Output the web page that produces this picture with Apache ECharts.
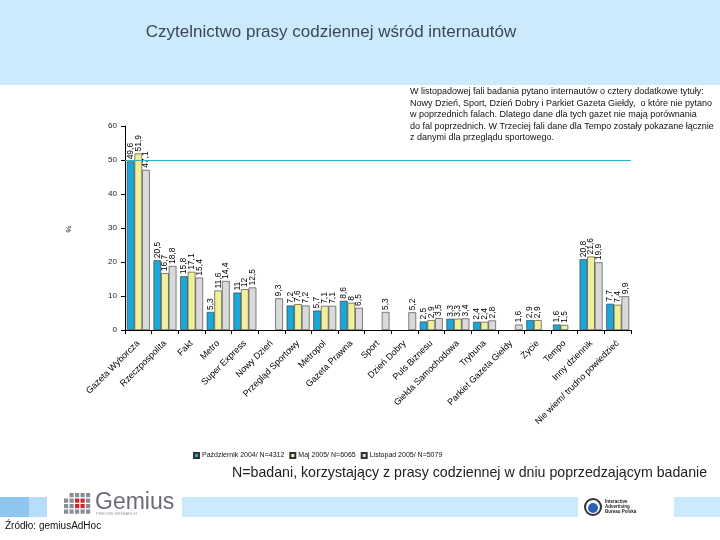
<!DOCTYPE html>
<html><head><meta charset="utf-8">
<script src="https://cdn.jsdelivr.net/npm/echarts@6/dist/echarts.min.js"></script>
<style>html,body{margin:0;padding:0;background:#fff}#c{width:720px;height:540px}</style>
</head><body><div id="c"></div>
<script>
const categories = ["Gazeta Wyborcza","Rzeczpospolita","Fakt","Metro","Super Express","Nowy Dzień","Przegląd Sportowy","Metropol","Gazeta Prawna","Sport","Dzień Dobry","Puls Biznesu","Giełda Samochodowa","Trybuna","Parkiet Gazeta Giełdy","Życie","Tempo","Inny dziennik","Nie wiem/ trudno powiedzieć"];
const seriesNames = ["Październik 2004/ N=4312","Maj 2005/ N=6065","Listopad 2005/ N=5079"];
const oct2004 = [49.6,20.5,15.8,5.3,11.0,null,7.2,5.7,8.6,null,null,2.5,3.3,2.4,null,2.9,1.6,20.8,7.7];
const may2005 = [51.9,16.7,17.1,11.6,12.0,null,7.6,7.1,8.0,null,null,2.9,3.3,2.4,null,2.9,1.5,21.6,7.4];
const nov2005 = [47.1,18.8,15.4,14.4,12.5,9.3,7.2,7.1,6.5,5.3,5.2,3.5,3.4,2.8,1.6,null,null,19.9,9.9];
const yTicks = [0,10,20,30,40,50,60];
const colors = ["#1ea6d9","#efef9c","#dadada"];
const noteLines = [
 "W listopadowej fali badania pytano internautów o cztery dodatkowe tytuły:",
 "Nowy Dzień, Sport, Dzień Dobry i Parkiet Gazeta Giełdy,  o które nie pytano",
 "w poprzednich falach. Dlatego dane dla tych gazet nie mają porównania",
 "do fal poprzednich. W Trzeciej fali dane dla Tempo zostały pokazane łącznie",
 "z danymi dla przeglądu sportowego."
];
const FONT = "Liberation Sans, Arial, sans-serif";
const chart = echarts.init(document.getElementById('c'));
const lab = {
  show: true, position: 'top', rotate: 90, align: 'left', verticalAlign: 'middle', distance: 2,
  fontSize: 8.5, fontFamily: FONT, color: '#000',
  formatter: p => (p.value == null ? '' : (Number.isInteger(p.value) ? String(p.value) : p.value.toFixed(1).replace('.', ',')))
};
function mk(i, data) {
  const s = {
    name: seriesNames[i], type: 'bar', data: data, barGap: 0, barCategoryGap: '14%',
    itemStyle: { color: colors[i], borderColor: '#333', borderWidth: 0.6 },
    label: lab, animation: false
  };
  if (i === 0) {
    s.markLine = { silent: true, symbol: 'none', label: { show: false },
      lineStyle: { color: '#33aec8', width: 1, type: 'solid' }, data: [{ yAxis: 50 }] };
  }
  return s;
}
const graphic = [
  { type: 'rect', shape: { x: 0, y: 0, width: 720, height: 85 }, style: { fill: '#cdeafc' }, z: -10 },
  { type: 'text', x: 331, y: 32, style: { text: 'Czytelnictwo prasy codziennej wśród internautów', font: '17px ' + FONT, fill: '#3a4754', textAlign: 'center', textVerticalAlign: 'middle' } },
  { type: 'text', x: 410, y: 86, style: { text: noteLines.join('\n'), font: '9px ' + FONT, fill: '#111', lineHeight: 11.5 } },
  { type: 'text', x: 68, y: 229, rotation: -Math.PI/2, style: { text: '%', font: '8px ' + FONT, fill: '#222', textAlign: 'center', textVerticalAlign: 'middle' } },
  { type: 'text', x: 232, y: 473, style: { text: 'N=badani, korzystający z prasy codziennej w dniu poprzedzającym badanie', font: '14.2px ' + FONT, fill: '#222', textVerticalAlign: 'middle' } },
  { type: 'rect', shape: { x: 0, y: 497, width: 29, height: 20 }, style: { fill: '#8ec6ef' } },
  { type: 'rect', shape: { x: 29, y: 497, width: 18, height: 20 }, style: { fill: '#b7def9' } },
  { type: 'rect', shape: { x: 182, y: 497, width: 396, height: 20 }, style: { fill: '#cdeafc' } },
  { type: 'rect', shape: { x: 674, y: 497, width: 46, height: 20 }, style: { fill: '#cdeafc' } },
  { type: 'text', x: 95, y: 503, style: { text: 'Gemius', font: '23px ' + FONT, fill: '#6a6c78', textVerticalAlign: 'middle' } },
  { type: 'text', x: 96, y: 514, style: { text: 'PRECISE RESEARCH', font: '4px ' + FONT, fill: '#9a9ca6', textVerticalAlign: 'middle' } },
  { type: 'circle', shape: { cx: 593, cy: 507, r: 8 }, style: { fill: '#fff', stroke: '#333', lineWidth: 2 } },
  { type: 'circle', shape: { cx: 593, cy: 508, r: 5 }, style: { fill: '#2a64b0' } },
  { type: 'text', x: 605, y: 507, style: { text: 'Interactive\nAdvertising\nBureau Polska', font: 'bold 4.5px ' + FONT, fill: '#222', lineHeight: 5, textVerticalAlign: 'middle' } },
  { type: 'text', x: 5, y: 526, style: { text: 'Źródło: gemiusAdHoc', font: '10px ' + FONT, fill: '#111', textVerticalAlign: 'middle' } }
];
const sq = [];
for (let r = 0; r < 4; r++) for (let c = 0; c < 5; c++) {
  const red = (r === 2 || r === 1) && (c === 2 || c === 3);
  if (r === 0 && (c === 0)) continue;
  sq.push({ type: 'rect', shape: { x: 64 + c * 5.5, y: 493 + r * 5.5, width: 4.2, height: 4.2 }, style: { fill: red ? '#d8232a' : '#8a8c96' } });
}
chart.setOption({
  animation: false,
  backgroundColor: '#fff',
  grid: { left: 125, right: 89, top: 126, bottom: 210, containLabel: false },
  legend: { left: 188, top: 447, itemWidth: 5, itemHeight: 5, itemGap: 5, icon: 'rect',
    textStyle: { fontSize: 7, fontFamily: FONT, color: '#111', padding: [0,0,0,-2] }, data: seriesNames },
  xAxis: { type: 'category', data: categories,
    axisLine: { lineStyle: { color: '#000', width: 1 } },
    axisTick: { show: true, alignWithLabel: false, length: 4, lineStyle: { color: '#000' } },
    axisLabel: { rotate: 45, interval: 0, fontSize: 9, fontFamily: FONT, color: '#000', margin: 12 } },
  yAxis: { type: 'value', min: 0, max: 60, interval: 10,
    axisLine: { show: true, lineStyle: { color: '#000', width: 1 } },
    axisTick: { show: true, length: 4, lineStyle: { color: '#000' } },
    splitLine: { show: false },
    axisLabel: { fontSize: 8, fontFamily: FONT, color: '#222', margin: 8,
      formatter: v => yTicks.includes(v) ? String(v) : '' } },
  series: [mk(0, oct2004), mk(1, may2005), mk(2, nov2005)],
  graphic: graphic.concat(sq)
});
</script></body></html>
